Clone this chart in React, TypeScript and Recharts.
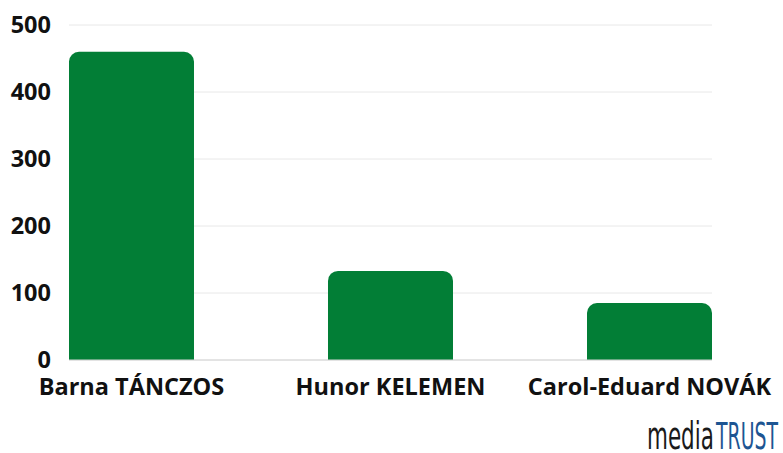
import { Bar, BarChart, CartesianGrid, XAxis, YAxis } from "recharts";

const candidates = ["Barna TÁNCZOS", "Hunor KELEMEN", "Carol-Eduard NOVÁK"];
const votes = [460, 133, 85];
const yTicks = [0, 100, 200, 300, 400, 500];

const BAR_GREEN = "#027e36";
const FONT = "'Open Sans', 'Noto Sans', sans-serif";

/** Bars sit on a numeric x scale so the outer bars can touch the plot edges. */
export default function App() {
  const data = candidates.map((name, i) => ({ idx: i, name, votes: votes[i] }));

  return (
    <div style={{ position: "absolute", left: 0, top: 0, width: 783, height: 453, background: "#fff" }}>
      <BarChart
        width={783}
        height={453}
        data={data}
        margin={{ top: 25, right: 71, bottom: 53, left: 0 }}
      >
        <CartesianGrid vertical={false} stroke="#e8e8e8" />
        <XAxis
          dataKey="idx"
          type="number"
          domain={[-0.2413, 2.2413]}
          ticks={[0, 1, 2]}
          allowDataOverflow
          tickFormatter={(i: number) => candidates[i] ?? ""}
          tickLine={false}
          tickSize={0}
          tickMargin={18}
          height={40}
          axisLine={{ stroke: "#d4d4d4" }}
          tick={{ fontSize: 23.5, fontWeight: 700, fill: "#111", fontFamily: FONT }}
        />
        <YAxis
          domain={[0, 500]}
          ticks={yTicks}
          width={69}
          axisLine={false}
          tickLine={false}
          tickSize={0}
          tickMargin={18}
          tick={{ fontSize: 23.5, fontWeight: 700, fill: "#111", fontFamily: FONT }}
        />
        <Bar
          dataKey="votes"
          fill={BAR_GREEN}
          barSize={125}
          radius={[10, 10, 0, 0]}
          isAnimationActive={false}
        />
      </BarChart>
      {/* condensed wordmark, squeezed horizontally */}
      <svg
        width={783}
        height={453}
        style={{ position: "absolute", left: 0, top: 0, pointerEvents: "none" }}
      >
        <g transform="translate(647,449) scale(0.58,1)">
          <text x={0} y={0} fontSize={37} fontFamily="'DejaVu Sans', sans-serif" fill="#1a1a1a">
            media
          </text>
        </g>
        <g transform="translate(716,449) scale(0.51,1)">
          <text x={0} y={0} fontSize={37} fontFamily="'DejaVu Sans', sans-serif" fill="#1d5592">
            TRUST
          </text>
        </g>
      </svg>
    </div>
  );
}
